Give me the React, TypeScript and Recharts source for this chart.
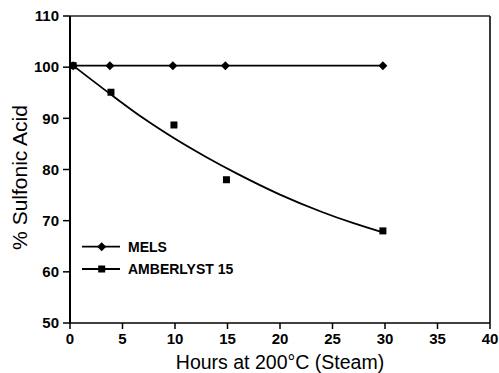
import React from 'react';
import { ComposedChart, Line, Scatter, XAxis, YAxis, ReferenceLine, Legend } from 'recharts';

const FONT = '"Liberation Sans", Arial, Helvetica, sans-serif';

// MELS resin (diamonds, connected)
const melsHours = [0.3, 3.8, 9.8, 14.8, 29.8];
const melsAcid = [100.3, 100.3, 100.3, 100.3, 100.3];

// Amberlyst 15 measured points (squares)
const amberHours = [0.3, 3.9, 9.9, 14.9, 29.8];
const amberAcid = [100.3, 95.1, 88.7, 78.0, 68.0];

// Amberlyst 15 fitted curve
const fitHours = [0.3, 4, 7, 10, 13, 16, 20, 24, 27, 29.8];
const fitAcid = [100.3, 94.5, 90.0, 86.0, 82.4, 79.1, 75.1, 71.7, 69.5, 67.7];

const xTicks = [0, 5, 10, 15, 20, 25, 30, 35, 40];
const yTicks = [50, 60, 70, 80, 90, 100, 110];

const legendNames = ['MELS', 'AMBERLYST 15'];

const mels = melsHours.map((x, i) => ({ x, y: melsAcid[i] }));
const amber = amberHours.map((x, i) => ({ x, y: amberAcid[i] }));
const fit = fitHours.map((x, i) => ({ x, y: fitAcid[i] }));

const Diamond = (props: any) => {
  const { cx, cy } = props;
  if (cx == null || cy == null) return null;
  const r = 4.5;
  return <polygon points={`${cx},${cy - r} ${cx + r},${cy} ${cx},${cy + r} ${cx - r},${cy}`} fill="#000" />;
};

const Square = (props: any) => {
  const { cx, cy } = props;
  if (cx == null || cy == null) return null;
  const s = 7;
  return <rect x={cx - s / 2} y={cy - s / 2} width={s} height={s} fill="#000" />;
};

const renderLegend = () => (
  <svg width={200} height={45} style={{ overflow: 'visible', display: 'block' }}>
    {legendNames.map((name, i) => {
      const y = 10.7 + i * 22.3;
      return (
        <g key={name}>
          <line x1={2} x2={40} y1={y} y2={y} stroke="#000" strokeWidth={1.8} />
          {i === 0 ? <Diamond cx={21.7} cy={y} /> : <Square cx={21.7} cy={y} />}
          <text x={48} y={y + 5} fontSize={14} fontWeight="bold" fontFamily={FONT} fill="#000">{name}</text>
        </g>
      );
    })}
  </svg>
);

const XLabel = (props: any) => {
  const vb = props.viewBox || {};
  return (
    <text x={vb.x + vb.width / 2} y={vb.y + 45.5} textAnchor="middle" fontSize={19.5} fontFamily={FONT} fill="#000">
      Hours at 200°C (Steam)
    </text>
  );
};

const YLabel = (props: any) => {
  const vb = props.viewBox || {};
  const cx = 27;
  const cy = vb.y + vb.height / 2 + 8;
  return (
    <text x={cx} y={cy} transform={`rotate(-90 ${cx} ${cy})`} textAnchor="middle" fontSize={21} fontFamily={FONT} fill="#000">
      % Sulfonic Acid
    </text>
  );
};

export default function App() {
  return (
    <div style={{ position: 'absolute', left: 0, top: 0, width: 499, height: 373, background: '#fff' }}>
      <ComposedChart width={499} height={373} margin={{ top: 16, right: 9, left: 20, bottom: 0 }}>
        <XAxis
          type="number"
          dataKey="x"
          domain={[0, 40]}
          ticks={xTicks}
          allowDataOverflow
          height={50}
          axisLine={{ stroke: '#000', strokeWidth: 1.6 }}
          tickLine={{ stroke: '#000', strokeWidth: 1.5 }}
          tickSize={6}
          tickMargin={4}
          tick={{ fontSize: 15, fontWeight: 'bold', fill: '#000', fontFamily: FONT }}
          label={<XLabel />}
        />
        <YAxis
          type="number"
          domain={[50, 110]}
          ticks={yTicks}
          width={50}
          axisLine={{ stroke: '#000', strokeWidth: 2 }}
          tickLine={{ stroke: '#000', strokeWidth: 1.5 }}
          tickSize={7}
          tickMargin={4}
          tick={{ fontSize: 15, fontWeight: 'bold', fill: '#000', fontFamily: FONT }}
          label={<YLabel />}
        />
        <ReferenceLine y={110} stroke="#222" strokeWidth={1.5} ifOverflow="visible" />
        <ReferenceLine x={40} stroke="#222" strokeWidth={1.8} ifOverflow="visible" />
        <Line
          data={fit}
          dataKey="y"
          type="monotone"
          stroke="#000"
          strokeWidth={1.8}
          dot={false}
          activeDot={false}
          isAnimationActive={false}
          legendType="none"
        />
        <Line
          data={mels}
          dataKey="y"
          type="linear"
          stroke="#000"
          strokeWidth={1.8}
          dot={<Diamond />}
          activeDot={false}
          isAnimationActive={false}
        />
        <Scatter data={amber} dataKey="y" shape={<Square />} isAnimationActive={false} />
        <Legend
          layout="horizontal"
          verticalAlign="middle"
          align="center"
          content={renderLegend}
          wrapperStyle={{ position: 'absolute', left: 80, top: 236, width: 200, height: 45 }}
        />
      </ComposedChart>
    </div>
  );
}
